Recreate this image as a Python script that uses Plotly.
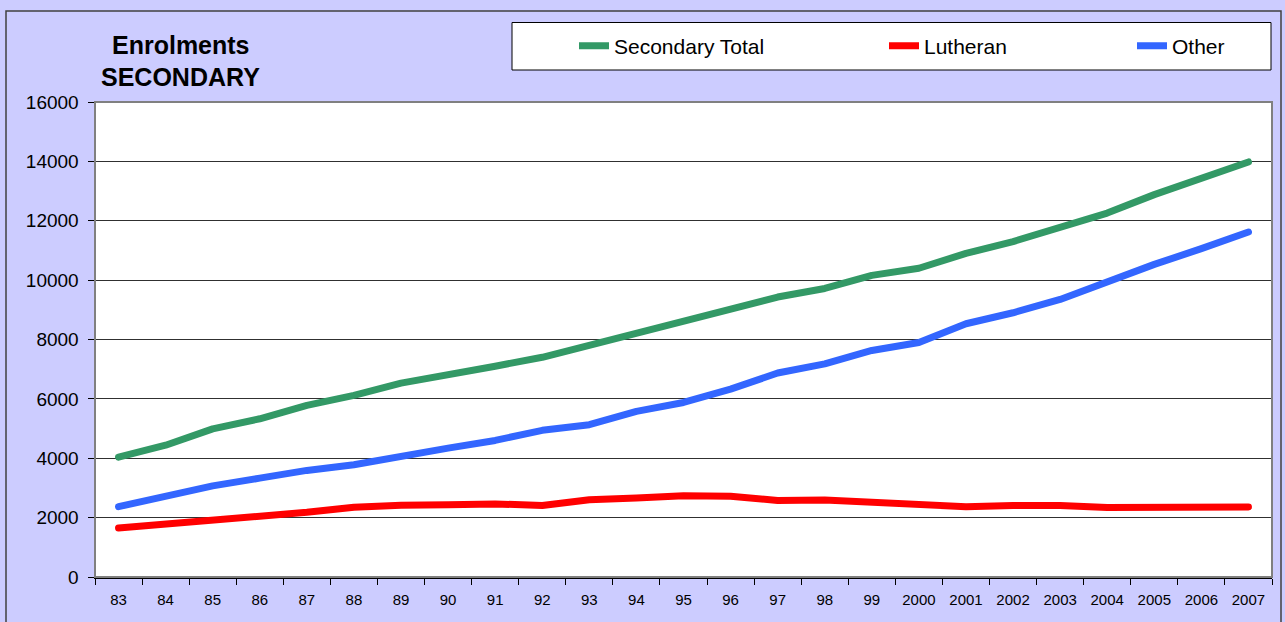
import plotly.graph_objects as go

years = ["83", "84", "85", "86", "87", "88", "89", "90", "91", "92", "93", "94", "95",
         "96", "97", "98", "99", "2000", "2001", "2002", "2003", "2004", "2005", "2006", "2007"]
secondary_total = [4040, 4440, 4990, 5330, 5780, 6120, 6530, 6790, 7100, 7400, 7810, 8260, 8660,
                   9080, 9430, 9720, 10160, 10400, 10900, 11300, 11800, 12260, 12880, 13400, 13980]
lutheran = [1650, 1770, 1920, 2040, 2180, 2350, 2420, 2430, 2460, 2410, 2600, 2660, 2740,
            2720, 2580, 2590, 2520, 2460, 2370, 2410, 2410, 2340, 2340, 2340, 2360]
other = [2370, 2710, 3070, 3330, 3590, 3780, 4080, 4340, 4600, 4940, 5130, 5580, 5880,
         6330, 6870, 7180, 7630, 7900, 8530, 8900, 9350, 9960, 10530, 11060, 11620]

y_ticks = [0, 2000, 4000, 6000, 8000, 10000, 12000, 14000, 16000]

W, H = 1285, 622
L, R, T, B = 95, 13, 102, 45
pw, ph = W - L - R, H - T - B


def px(x):
    return (x - L) / pw


def py(y):
    return (H - B - y) / ph


FONT = "Liberation Sans, Arial, sans-serif"

fig = go.Figure()
series = [
    ("Secondary Total", secondary_total, "#339966", "legend"),
    ("Lutheran", lutheran, "#FF0000", "legend2"),
    ("Other", other, "#3366FF", "legend3"),
]
for name, vals, col, lg in series:
    fig.add_trace(go.Scatter(
        x=years, y=vals, name=name, mode="lines",
        line=dict(color=col, width=7), legend=lg,
    ))

leg_common = dict(orientation="h", bgcolor="rgba(0,0,0,0)", borderwidth=0,
                  font=dict(family=FONT, size=21, color="#000000"),
                  xanchor="left", yanchor="middle", y=py(46))

fig.update_layout(
    width=W, height=H,
    margin=dict(l=L, r=R, t=T, b=B, pad=0),
    paper_bgcolor="#CCCCFF",
    plot_bgcolor="#FFFFFF",
    showlegend=True,
    legend=dict(x=px(574), **leg_common),
    legend2=dict(x=px(884), **leg_common),
    legend3=dict(x=px(1132), **leg_common),
    xaxis=dict(
        type="category", categoryorder="array", categoryarray=years,
        tickson="boundaries", ticks="outside", ticklen=6, tickcolor="#000000",
        showgrid=False, showline=True, linecolor="#000000", linewidth=1.5,
        tickfont=dict(family=FONT, size=15, color="#000000"),
        ticklabelstandoff=8,
        range=[-0.5, len(years) - 0.5], fixedrange=True,
    ),
    yaxis=dict(
        range=[0, 16000], tickvals=y_ticks, tickformat="d",
        ticks="outside", ticklen=6, tickcolor="#000000",
        showgrid=True, gridcolor="#303030", gridwidth=1,
        showline=True, linecolor="#000000", linewidth=1.5, zeroline=False,
        tickfont=dict(family=FONT, size=19, color="#000000"),
        ticklabelstandoff=5,
        fixedrange=True,
    ),
    shapes=[
        # outer chart border
        dict(type="rect", xref="paper", yref="paper",
             x0=px(6), x1=px(1281), y0=py(640), y1=py(11),
             line=dict(color="#404040", width=1.5), fillcolor="rgba(0,0,0,0)", layer="below"),
        # plot area border
        dict(type="rect", xref="paper", yref="paper", x0=0, x1=1, y0=0, y1=1,
             line=dict(color="#808080", width=2), fillcolor="rgba(0,0,0,0)", layer="above"),
        # legend box
        dict(type="rect", xref="paper", yref="paper",
             x0=px(512), x1=px(1271), y0=py(70), y1=py(22.5),
             line=dict(color="#000000", width=1), fillcolor="#FFFFFF", layer="below"),
    ],
    annotations=[
        dict(text="<b>Enrolments</b>", xref="paper", yref="paper", x=px(181), y=py(45),
             xanchor="center", yanchor="middle", showarrow=False,
             font=dict(family=FONT, size=25, color="#000000")),
        dict(text="<b>SECONDARY</b>", xref="paper", yref="paper", x=px(180), y=py(77),
             xanchor="center", yanchor="middle", showarrow=False,
             font=dict(family=FONT, size=25, color="#000000")),
    ],
)

fig.write_html(
    "out.html",
    config={"displayModeBar": False, "staticPlot": True},
    post_script="document.body.style.margin='0';document.body.style.padding='0';"
                "document.body.style.overflow='hidden';"
                "document.querySelectorAll('.scatterlayer .js-line').forEach("
                "function(p){p.style.strokeLinecap='round';p.style.strokeLinejoin='round';});",
)
